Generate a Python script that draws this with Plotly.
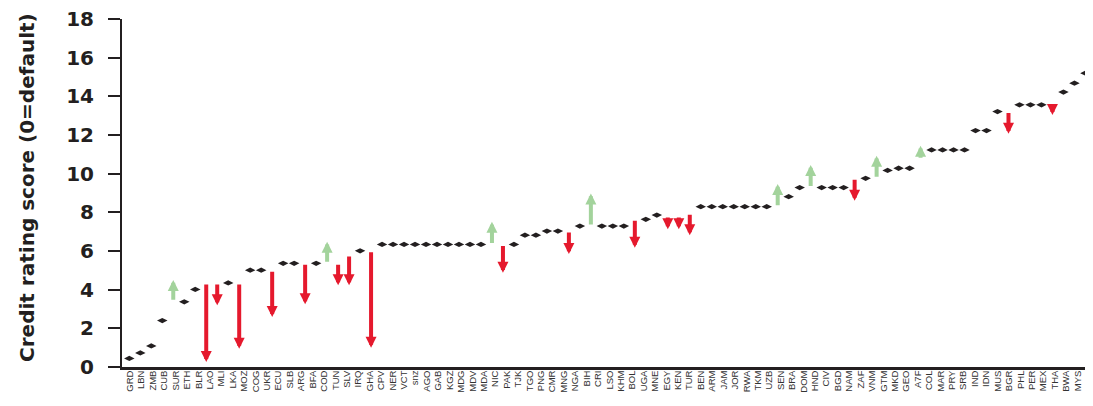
import numpy as np
import plotly.graph_objects as go

# Current credit rating score of each plotted economy (left to right)
score = [0.44, 0.73, 1.09, 2.40, 4.50, 3.37, 4.01, 0.26, 3.20, 4.35,
         0.95, 5.01, 5.01, 2.59, 5.36, 5.36, 3.25, 5.36, 6.48, 4.23,
         4.23, 6.01, 1.00, 6.34, 6.34, 6.34, 6.34, 6.34, 6.34, 6.34,
         6.34, 6.34, 6.34, 7.51, 4.87, 6.34, 6.82, 6.82, 7.03, 7.03,
         5.84, 7.29, 8.98, 7.29, 7.29, 7.29, 6.17, 7.64, 7.86, 7.13,
         7.13, 6.82, 8.29, 8.29, 8.29, 8.29, 8.29, 8.29, 8.29, 9.47,
         8.81, 9.28, 10.45, 9.28, 9.28, 9.28, 8.60, 9.76, 10.93, 10.17,
         10.28, 10.28, 11.45, 11.23, 11.23, 11.23, 11.23, 12.23, 12.23, 13.21,
         12.06, 13.56, 13.56, 13.56, 13.04, 14.22, 14.68, 15.20, 17.20]

# Earlier score where the rating changed (None = unchanged)
prior = [None] * len(score)
for i, v in {4: 3.40, 7: 4.35, 8: 4.35, 10: 4.35, 13: 5.01, 16: 5.36, 18: 5.36,
             19: 5.36, 20: 5.79, 22: 6.01, 33: 6.34, 34: 6.34, 40: 7.03, 42: 7.29,
             46: 7.64, 49: 7.81, 50: 7.81, 51: 7.95, 59: 8.29, 62: 9.28, 66: 9.76,
             68: 9.76, 72: 10.75, 80: 13.21, 84: 13.68}.items():
    prior[i] = v

tick_labels = ["GRD", "LBN", "ZMB", "CUB", "SUR", "ETH", "BLR", "LAO", "MLI", "LKA",
               "MOZ", "COG", "UKR", "ECU", "SLB", "ARG", "BFA", "COD", "TUN", "SLV",
               "IRQ", "GHA", "CPV", "NER", "VCT", "snz", "AGO", "GAB", "KGZ", "MDG",
               "MDV", "MDA", "NIC", "PAK", "TJK", "TGO", "PNG", "CMR", "MNG", "NGA",
               "BIH", "CRI", "LSO", "KHM", "BOL", "UGA", "MNE", "EGY", "KEN", "TUR",
               "BEN", "ARM", "JAM", "JOR", "RWA", "TKM", "UZB", "SEN", "BRA", "DOM",
               "HND", "CIV", "BGD", "NAM", "ZAF", "VNM", "GTM", "MKD", "GEO", "A7F",
               "COL", "MAR", "PRY", "SRB", "IND", "IDN", "MUS", "BGR", "PHL", "PER",
               "MEX", "THA", "BWA", "MYS", "CHN"]

y_ticks = [0, 2, 4, 6, 8, 10, 12, 14, 16, 18]

RED = "#E5192D"
GREEN = "#A3D39C"
DARK = "#231F20"
BOLD_FONT = "DejaVu Sans, Liberation Sans, Arial, sans-serif"

xpos = list(range(len(score)))
dot_x = [x for x, p in zip(xpos, prior) if p is None]
dot_y = [s for s, p in zip(score, prior) if p is None]

fig = go.Figure()
fig.add_trace(go.Scatter(
    x=dot_x, y=dot_y, mode="markers",
    marker=dict(symbol="diamond-wide", size=7.5, color=DARK),
    hoverinfo="skip", showlegend=False,
))

annotations = []
for x, s, p in zip(xpos, score, prior):
    if p is None:
        continue
    col = GREEN if s > p else RED
    annotations.append(dict(
        x=x, y=s, ax=x, ay=p, xref="x", yref="y", axref="x", ayref="y",
        text="", showarrow=True, arrowhead=2, arrowsize=0.55, arrowwidth=4,
        arrowcolor=col, standoff=0, startstandoff=0,
    ))

annotations.append(dict(
    text="<b>Credit rating score (0=default)</b>", textangle=-90,
    xref="paper", yref="paper", x=-0.098, y=0.517,
    xanchor="center", yanchor="middle", showarrow=False,
    font=dict(family=BOLD_FONT, size=20, color=DARK),
))

# label positions spread evenly across the axis
tickvals = np.linspace(0.06, 87.32, len(tick_labels))

fig.update_layout(
    width=1085, height=398,
    margin=dict(l=114, r=0, t=11.3, b=39.3),
    paper_bgcolor="white", plot_bgcolor="white",
    annotations=annotations,
    xaxis=dict(
        range=[-0.664, 87.69], showgrid=False, zeroline=False, automargin=False,
        showline=True, linecolor=DARK, linewidth=2.5,
        tickvals=tickvals, ticktext=tick_labels, tickangle=-90,
        ticks="", ticklabelstandoff=-3, ticklabeloverflow="allow",
        tickfont=dict(family="Liberation Sans, Arial, sans-serif",
                      size=9.5, color="#333333"),
    ),
    yaxis=dict(
        range=[0, 18], showgrid=False, zeroline=False, automargin=False,
        showline=True, linecolor=DARK, linewidth=2,
        tickvals=y_ticks, ticks="outside", ticklen=12, tickwidth=1.5,
        tickcolor=DARK, ticklabelstandoff=10, ticklabeloverflow="allow",
        tickfont=dict(family=BOLD_FONT, size=20, color=DARK, weight="bold"),
    ),
)

fig.write_html("out.html")
